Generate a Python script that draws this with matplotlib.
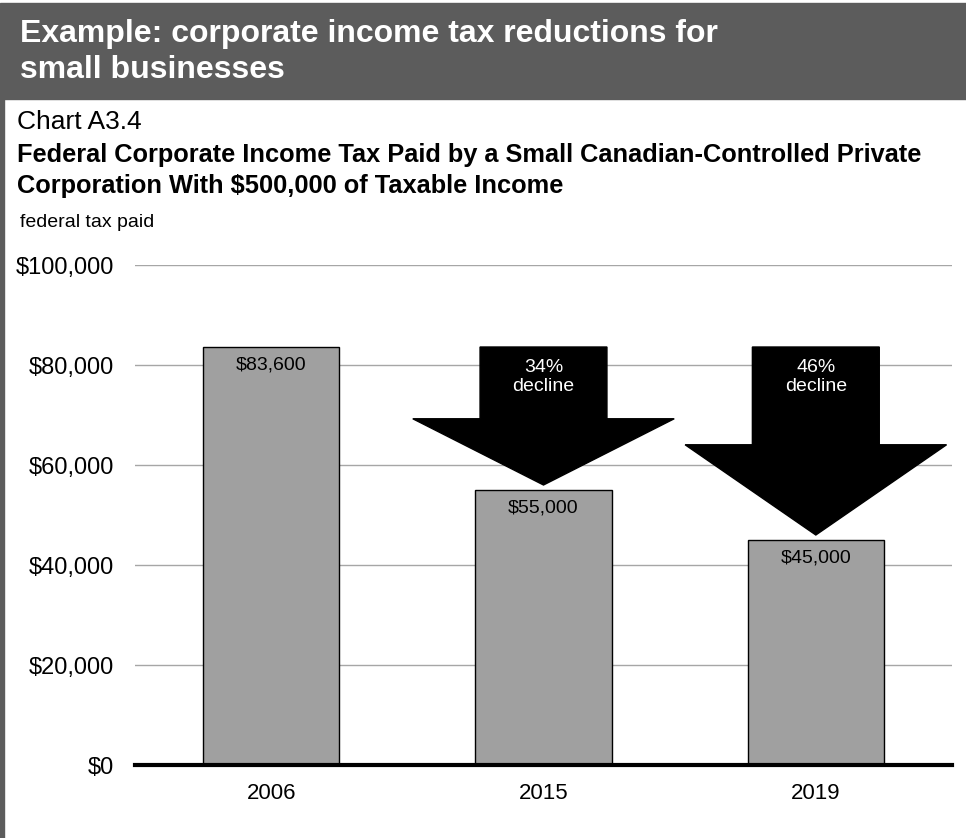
import numpy as np
import matplotlib
matplotlib.use('Agg')
import matplotlib.pyplot as plt
from matplotlib.patches import Polygon, Rectangle

plt.rcParams['font.family'] = ['Liberation Sans', 'DejaVu Sans']

years = ['2006', '2015', '2019']
tax_paid = [83600, 55000, 45000]
bar_labels = ['$83,600', '$55,000', '$45,000']
declines = [None, '34%\ndecline', '46%\ndecline']
yticks = [0, 20000, 40000, 60000, 80000, 100000]

W, H = 966, 838
fig = plt.figure(figsize=(W / 100, H / 100), dpi=100)

# header band and left border
grey = '#5c5c5c'
fig.patches.append(Rectangle((0, 1 - 99 / H), 1, 96 / H, transform=fig.transFigure,
                             color=grey, zorder=0))
fig.patches.append(Rectangle((0, 0), 4 / W, 1 - 99 / H, transform=fig.transFigure,
                             color=grey, zorder=0))

fig.text(20 / W, 1 - 34 / H, 'Example: corporate income tax reductions for',
         color='white', fontsize=23, fontweight='bold', va='center')
fig.text(20 / W, 1 - 70 / H, 'small businesses',
         color='white', fontsize=23, fontweight='bold', va='center')

fig.text(17 / W, 1 - 122 / H, 'Chart A3.4', fontsize=19, va='center')
fig.text(17 / W, 1 - 155 / H,
         'Federal Corporate Income Tax Paid by a Small Canadian-Controlled Private',
         fontsize=18.3, fontweight='bold', va='center')
fig.text(17 / W, 1 - 186 / H, 'Corporation With $500,000 of Taxable Income',
         fontsize=18.3, fontweight='bold', va='center')
fig.text(20 / W, 1 - 222 / H, 'federal tax paid', fontsize=14, va='center')

# plot area
left, right = 135 / W, 952 / W
bottom, top = 1 - 765 / H, 1 - 265 / H
ax = fig.add_axes([left, bottom, right - left, top - bottom])

x = np.arange(len(years))
ax.bar(x, tax_paid, width=0.5, color='#a0a0a0', edgecolor='black', linewidth=1, zorder=2)
for xi, v, lab in zip(x, tax_paid, bar_labels):
    ax.text(xi, v - 3600, lab, ha='center', va='center', fontsize=14, zorder=4)

# decline arrows from 2006 level down to each later bar
for xi, v, lab in zip(x, tax_paid, declines):
    if lab is None:
        continue
    arrow_top = tax_paid[0]
    tip = v + 1000
    head_base = tip + 0.48 * (arrow_top - tip)
    sw, hw = 0.233, 0.48
    pts = [(xi - sw, arrow_top), (xi + sw, arrow_top), (xi + sw, head_base),
           (xi + hw, head_base), (xi, tip), (xi - hw, head_base), (xi - sw, head_base)]
    ax.add_patch(Polygon(pts, closed=True, color='black', zorder=3))
    ax.text(xi, 77600, lab, ha='center', va='center', color='white', fontsize=14,
            zorder=4, linespacing=1.1)

ax.set_xlim(-0.5, 2.5)
ax.set_ylim(0, 100000)
ax.set_yticks(yticks)
ax.set_yticklabels(['${:,}'.format(t) for t in yticks])
ax.set_xticks(x)
ax.set_xticklabels(years)
ax.tick_params(axis='y', length=0, pad=15, labelsize=17)
ax.tick_params(axis='x', length=0, pad=13, labelsize=16)
ax.grid(axis='y', color='#a6a6a6', linewidth=1, zorder=0)
ax.set_axisbelow(True)
for s in ax.spines.values():
    s.set_visible(False)
ax.axhline(0, color='black', linewidth=3, zorder=5, clip_on=False)

fig.savefig('out.png', dpi=100)
